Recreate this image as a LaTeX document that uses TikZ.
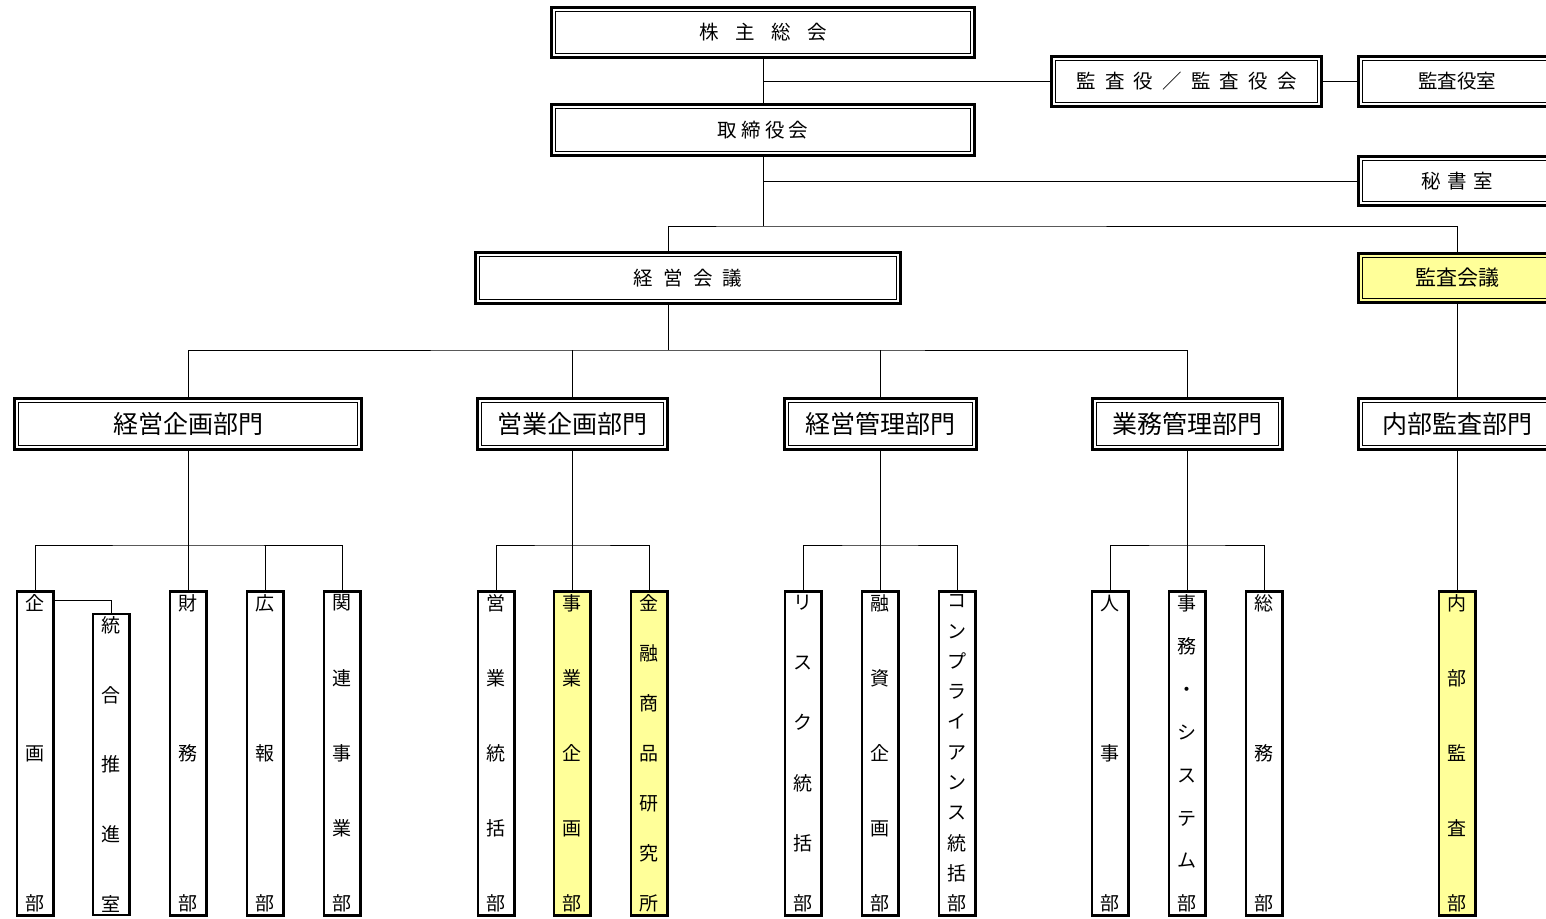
\documentclass[tikz,border=0pt]{standalone}
\usepackage{fontspec}
\setmainfont{Noto Sans CJK JP}
\definecolor{hilite}{RGB}{255,255,153}
\newcommand{\jsp}[1]{\hspace{#1em}}
\newcommand{\tate}[2]{%
	\begin{minipage}[c][#1][s]{1.3em}\centering
	\foreach \ch [count=\n] in {#2}{\ifnum\n>1 \vfill\fi\ch\par}%
	\end{minipage}}

\begin{document}
\begin{tikzpicture}[
		x=1pt,y=-1pt,
		dbox/.style = {draw, line width=3pt, fill=white, inner sep=0pt,
			path picture={\draw[line width=1pt]
				([shift={(4pt,4pt)}]path picture bounding box.south west) rectangle
				([shift={(-4pt,-4pt)}]path picture bounding box.north east);}},
		board/.style = {dbox, minimum height=50pt, font=\fontsize{19.5}{22}\selectfont},
		dept/.style = {dbox, minimum height=51pt, font=\fontsize{25}{28}\selectfont},
		tbox/.style = {draw, fill=white, line width=2.5pt, inner xsep=0pt, inner ysep=3pt,
			minimum width=36.5pt, font=\fontsize{19}{21}\selectfont},
		hl/.style = {fill=hilite},
		link/.style = {line width=.9pt}
	]
	\useasboundingbox (0,0) rectangle (1546,918);
	\clip (0,0) rectangle (1546,918);

	\node (kabu) [board, minimum width=423pt] at (763,32.5) {株\jsp{.85}主\jsp{.85}総\jsp{.85}会};
	\node (tori) [board, minimum width=423pt, minimum height=51pt] at (763,130) {取\jsp{.22}締\jsp{.22}役\jsp{.22}会};
	\node (kansa) [board, minimum width=270pt] at (1186.5,81.5) {監\jsp{.47}査\jsp{.47}役\jsp{.47}／\jsp{.47}監\jsp{.47}査\jsp{.47}役\jsp{.47}会};
	\node (kansashitsu) [board, minimum width=197pt] at (1457,81.5) {監査役室};
	\node (hisho) [board, minimum width=197pt, minimum height=49pt] at (1457,181) {秘\jsp{.33}書\jsp{.33}室};
	\node (keiei) [board, minimum width=425pt, minimum height=51pt] at (688,278) {経\jsp{.52}営\jsp{.52}会\jsp{.52}議};
	\node (kansakaigi) [board, hl, minimum width=197pt, minimum height=49pt, font=\fontsize{21}{24}\selectfont] at (1457,278) {監査会議};

	\node (kikakub) [dept, minimum width=347pt] at (188,424) {経営企画部門};
	\node (eigyob) [dept, minimum width=190pt] at (572,424) {営業企画部門};
	\node (kanrib) [dept, minimum width=192pt] at (880,424) {経営管理部門};
	\node (gyomub) [dept, minimum width=190pt] at (1187,424) {業務管理部門};
	\node (naibub) [dept, minimum width=197pt] at (1457,424) {内部監査部門};

	\node (kikaku) [tbox] at (35,753.5) {\tate{316pt}{企,画,部}};
	\node (togo) [tbox] at (111,764.5) {\tate{294pt}{統,合,推,進,室}};
	\node (zaimu) [tbox] at (188,753.5) {\tate{316pt}{財,務,部}};
	\node (koho) [tbox] at (265,753.5) {\tate{316pt}{広,報,部}};
	\node (kanren) [tbox] at (342,753.5) {\tate{316pt}{関,連,事,業,部}};
	\node (eitoku) [tbox] at (496,753.5) {\tate{316pt}{営,業,統,括,部}};
	\node (jigyo) [tbox, hl] at (572,753.5) {\tate{316pt}{事,業,企,画,部}};
	\node (kinyu) [tbox, hl] at (649,753.5) {\tate{316pt}{金,融,商,品,研,究,所}};
	\node (risk) [tbox] at (803,753.5) {\tate{316pt}{リ,ス,ク,統,括,部}};
	\node (yushi) [tbox] at (880,753.5) {\tate{316pt}{融,資,企,画,部}};
	\node (comp) [tbox] at (957,753.5) {\tate{316pt}{コ,ン,プ,ラ,イ,ア,ン,ス,統,括,部}};
	\node (jinji) [tbox] at (1110,753.5) {\tate{316pt}{人,事,部}};
	\node (jimu) [tbox] at (1187,753.5) {\tate{316pt}{事,務,・,シ,ス,テ,ム,部}};
	\node (somu) [tbox] at (1264,753.5) {\tate{316pt}{総,務,部}};
	\node (naibu) [tbox, hl] at (1457,753.5) {\tate{316pt}{内,部,監,査,部}};

	% upper levels
	\coordinate (j1) at (763,226);
	\coordinate (j2) at (668,350);
	\draw [link] (kabu) -- (tori);
	\draw [link] (kabu.south |- kansa) -- (kansa);
	\draw [link] (kansa) -- (kansashitsu);
	\draw [link] (tori) -- (j1);
	\draw [link] (tori.south |- hisho) -- (hisho);
	\draw [link] ([xshift=-20pt]keiei.north) |- (j1) -| (kansakaigi.north);
	\draw [link] (kansakaigi) -- (naibub);
	\draw [link] ([xshift=-20pt]keiei.south) -- (j2);
	\draw [link] (kikakub.north) |- (j2) -| (gyomub.north);
	\draw [link] (eigyob.north) -- (eigyob.north |- j2);
	\draw [link] (kanrib.north) -- (kanrib.north |- j2);

	% departments
	\coordinate (k1) at (188,545);
	\coordinate (k2) at (572,545);
	\coordinate (k3) at (880,545);
	\coordinate (k4) at (1187,545);
	\draw [link] (kikakub) -- (zaimu);
	\draw [link] (kikaku.north) |- (k1) -| (kanren.north);
	\draw [link] (koho.north) -- (koho.north |- k1);
	\draw [link] ([yshift=-10pt]kikaku.north east) -| (togo.north);
	\draw [link] (eigyob) -- (jigyo);
	\draw [link] (eitoku.north) |- (k2) -| (kinyu.north);
	\draw [link] (kanrib) -- (yushi);
	\draw [link] (risk.north) |- (k3) -| (comp.north);
	\draw [link] (gyomub) -- (jimu);
	\draw [link] (jinji.north) |- (k4) -| (somu.north);
	\draw [link] (naibub) -- (naibu);
\end{tikzpicture}
\end{document}
